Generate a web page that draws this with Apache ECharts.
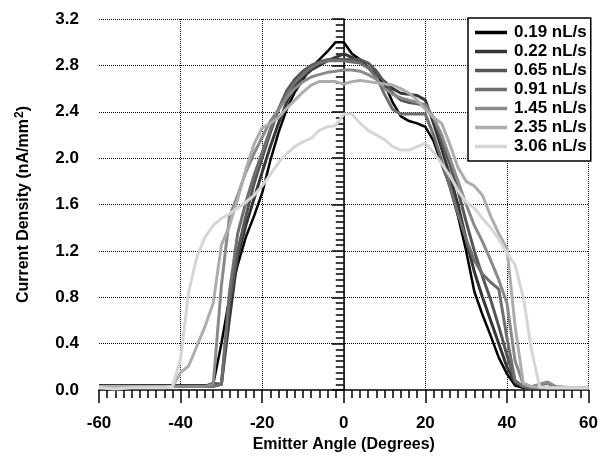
<!DOCTYPE html>
<html>
<head>
<meta charset="utf-8">
<script src="https://cdn.jsdelivr.net/npm/echarts@6/dist/echarts.min.js"></script>
<style>html,body{margin:0;padding:0;background:#fff}#c{width:601px;height:458px}</style>
</head>
<body>
<div id="c"></div>
<script>
var angles = [-60,-56,-52,-48,-44,-42,-40,-38,-36,-34,-32,-30,-28,-26,-24,-22,-20,-18,-16,-14,-12,-10,-8,-6,-4,-2,0,2,4,6,8,10,12,14,16,18,20,22,24,26,28,30,32,34,36,38,40,42,44,46,48,50,52,56,60];
var seriesNames = ['0.19 nL/s','0.22 nL/s','0.65 nL/s','0.91 nL/s','1.45 nL/s','2.35 nL/s','3.06 nL/s'];
var s019 = [0.03,0.03,0.03,0.03,0.03,0.03,0.04,0.04,0.04,0.04,0.05,0.40,0.80,1.08,1.32,1.50,1.70,1.98,2.22,2.42,2.57,2.68,2.78,2.85,2.92,3.00,3.00,2.90,2.85,2.78,2.70,2.64,2.48,2.36,2.32,2.30,2.27,2.15,1.95,1.76,1.50,1.20,0.85,0.65,0.47,0.28,0.14,0.04,0.02,0.02,0.02,0.02,0.02,0.02,0.02];
var s022 = [0.04,0.04,0.04,0.04,0.04,0.04,0.04,0.04,0.04,0.04,0.04,0.05,0.62,1.15,1.42,1.65,1.88,2.10,2.30,2.48,2.62,2.70,2.76,2.80,2.84,2.87,2.90,2.87,2.83,2.78,2.72,2.66,2.60,2.56,2.55,2.54,2.50,2.30,2.08,1.85,1.60,1.30,1.02,0.80,0.60,0.40,0.20,0.06,0.03,0.02,0.02,0.02,0.02,0.02,0.02];
var s065 = [0.03,0.03,0.03,0.03,0.03,0.03,0.03,0.03,0.03,0.03,0.06,0.05,0.75,1.20,1.50,1.78,2.00,2.22,2.42,2.58,2.68,2.75,2.80,2.83,2.85,2.85,2.85,2.85,2.85,2.82,2.75,2.65,2.56,2.50,2.48,2.47,2.45,2.35,2.15,1.95,1.72,1.45,1.20,0.98,0.78,0.55,0.30,0.08,0.03,0.02,0.02,0.02,0.02,0.02,0.02];
var s091 = [0.03,0.03,0.03,0.03,0.03,0.03,0.03,0.03,0.03,0.03,0.03,0.05,0.85,1.35,1.62,1.85,2.05,2.25,2.42,2.55,2.65,2.72,2.78,2.82,2.84,2.84,2.84,2.83,2.82,2.78,2.70,2.55,2.42,2.38,2.38,2.38,2.38,2.20,1.98,1.75,1.52,1.30,1.12,1.00,0.93,0.87,0.45,0.08,0.03,0.02,0.04,0.06,0.02,0.02,0.02];
var s145 = [0.03,0.03,0.03,0.03,0.03,0.03,0.03,0.03,0.03,0.03,0.05,0.90,1.50,1.68,1.88,2.04,2.18,2.32,2.42,2.52,2.60,2.66,2.70,2.72,2.74,2.75,2.76,2.76,2.75,2.72,2.68,2.60,2.55,2.52,2.50,2.48,2.46,2.35,2.20,2.00,1.80,1.60,1.42,1.28,1.12,0.95,0.75,0.25,0.05,0.03,0.05,0.07,0.03,0.02,0.02];
var s235 = [0.03,0.03,0.03,0.03,0.03,0.03,0.15,0.21,0.38,0.55,0.75,1.25,1.42,1.65,1.90,2.12,2.26,2.30,2.35,2.43,2.50,2.57,2.63,2.66,2.66,2.66,2.64,2.66,2.67,2.66,2.65,2.64,2.63,2.60,2.56,2.50,2.42,2.35,2.30,2.12,1.92,1.80,1.76,1.68,1.50,1.35,1.22,0.55,0.06,0.03,0.02,0.02,0.02,0.02,0.02];
var s306 = [0.02,0.01,0.02,0.02,0.02,0.03,0.27,0.85,1.15,1.32,1.42,1.48,1.52,1.57,1.62,1.68,1.76,1.86,1.96,2.04,2.10,2.14,2.17,2.24,2.27,2.28,2.38,2.38,2.30,2.24,2.20,2.16,2.10,2.07,2.07,2.10,2.13,2.05,1.95,1.85,1.72,1.62,1.57,1.48,1.40,1.30,1.18,1.08,0.80,0.35,0.03,0.02,0.02,0.02,0.02];
var xTicks = [-60,-40,-20,0,20,40,60];
var yTicks = [0.0,0.4,0.8,1.2,1.6,2.0,2.4,2.8,3.2];

var allValues = [s019,s022,s065,s091,s145,s235,s306];
var colors = ['#000000','#363636','#565656','#6f6f6f','#8a8a8a','#adadad','#d6d6d6'];
var widths = [2.5,3,3,3,3,3,3];

var FONT = 'Liberation Sans, Arial, sans-serif';
var chart = echarts.init(document.getElementById('c'), null, {renderer:'canvas'});

var series = allValues.map(function(vals, i){
  return {
    name: seriesNames[i],
    type: 'line',
    data: angles.map(function(a, j){ return [a, vals[j]]; }),
    showSymbol: false,
    symbol: 'none',
    lineStyle: {color: colors[i], width: widths[i], join: 'round'},
    itemStyle: {color: colors[i]},
    animation: false
  };
});

chart.setOption({
  animation: false,
  backgroundColor: '#fff',
  grid: {left: 99, right: 11, top: 19, bottom: 65.5},
  legend: {
    orient: 'vertical',
    left: 468, top: 18,
    backgroundColor: '#fff',
    borderColor: '#000', borderWidth: 1.5,
    padding: [6, 4, 6, 7],
    itemWidth: 32, itemHeight: 3.5, itemGap: 2,
    icon: 'rect',
    textStyle: {fontFamily: FONT, fontWeight: 'bold', fontSize: 17, color: '#000', padding: [0,0,0,2], lineHeight: 17},
    data: seriesNames
  },
  xAxis: {
    type: 'value', min: xTicks[0], max: xTicks[xTicks.length-1], interval: 20,
    name: 'Emitter Angle (Degrees)', nameLocation: 'middle', nameGap: 46,
    nameTextStyle: {fontFamily: FONT, fontWeight: 'bold', fontSize: 16, color: '#000'},
    axisLine: {show: true, onZero: false, lineStyle: {color: '#000', width: 1.5}},
    axisTick: {show: true, length: 13, lineStyle: {color: '#000', width: 1.5}},
    minorTick: {show: true, splitNumber: 10, length: 8, lineStyle: {color: '#000', width: 1.5}},
    axisLabel: {fontFamily: FONT, fontWeight: 'bold', fontSize: 17, color: '#000', margin: 25},
    splitLine: {show: true, showMinLine: false, lineStyle: {type: 'dotted', color: '#000', width: 1}}
  },
  yAxis: {
    type: 'value', min: yTicks[0], max: yTicks[yTicks.length-1], interval: 0.4,
    name: 'Current Density (nA/mm{sup|2})', nameLocation: 'middle', nameGap: 65,
    nameTextStyle: {fontFamily: FONT, fontWeight: 'bold', fontSize: 16, color: '#000',
      rich: {sup: {fontFamily: FONT, fontWeight: 'bold', fontSize: 12, color: '#000', verticalAlign: 'top', padding: [0,0,8,1]}}},
    axisLine: {show: true, lineStyle: {color: '#000', width: 1.5}},
    axisTick: {show: true, length: 12, lineStyle: {color: '#000', width: 1.5}},
    minorTick: {show: true, splitNumber: 8, length: 8, lineStyle: {color: '#000', width: 1.5}},
    axisLabel: {fontFamily: FONT, fontWeight: 'bold', fontSize: 17, color: '#000', margin: 20,
      formatter: function(v){ return v.toFixed(1); }},
    splitLine: {show: true, showMinLine: false, lineStyle: {type: 'dotted', color: '#000', width: 1}}
  },
  series: series
});
</script>
</body>
</html>
